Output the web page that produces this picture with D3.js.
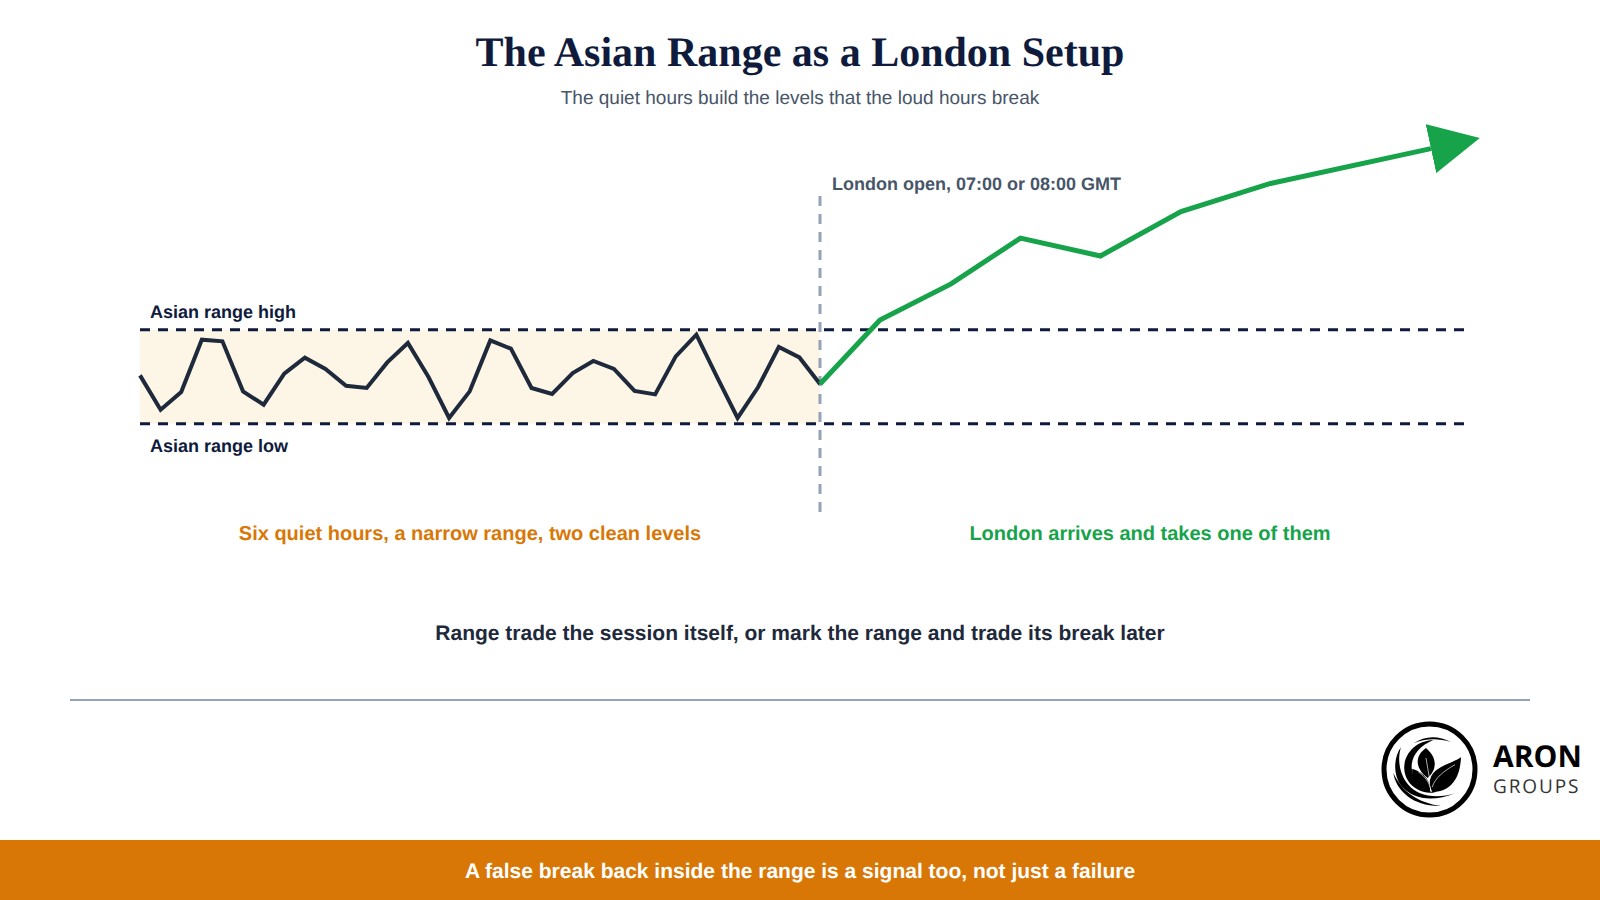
<!DOCTYPE html>
<html><head><meta charset="utf-8"><script src="https://cdnjs.cloudflare.com/ajax/libs/d3/7.8.5/d3.min.js"></script>
<style>html,body{margin:0;padding:0;background:#fff}svg{display:block}text{font-family:"Liberation Sans",Arial,sans-serif;text-rendering:geometricPrecision}</style></head>
<body><svg id="c" width="1600" height="900"></svg>
<script>
const asianSteps = d3.range(0, 34);
const asianValues = [51.4,14.9,33.7,89.4,87.6,34.4,20.2,53.2,70.2,58.2,40.4,38,65.2,85.9,49.7,6.1,34.4,88.6,79.8,38,31.6,53.9,66.7,58.2,34.8,31.2,71.6,94.7,49.7,6.1,39,81.6,70.5,42.2];
const londonSteps = [33,35.91,39.36,42.73,46.61,50.52,54.86,62.65];
const londonValues = [42.2,110.2,148.7,197.5,178.4,225.6,255.6,292.6];
const rangeLow = 0, rangeHigh = 100;
const rangeEndStep = 33, levelEndStep = 64.3;

const svg = d3.select('#c');
const x = d3.scaleLinear().domain([0,33]).range([140,820]);
const y = d3.scaleLinear().domain([0,100]).range([423.7,329.7]);
const line = d3.line().x(d=>x(d[0])).y(d=>y(d[1]));

const defs = svg.append('defs');
defs.append('marker').attr('id','arrow').attr('viewBox','0 0 10 10').attr('refX',0).attr('refY',5)
  .attr('markerWidth',10).attr('markerHeight',10).attr('orient','auto')
  .append('path').attr('d','M0,0L10,5L0,10Z').attr('fill','#16a34a');

function t(txt,xp,yp,size,fill,opts={}){
  return svg.append('text').attr('x',xp).attr('y',yp).attr('font-size',size).attr('fill',fill)
    .attr('text-anchor',opts.anchor||'middle').attr('font-weight',opts.weight||'normal')
    .style('font-family',opts.family||null).text(txt);
}

t('The Asian Range as a London Setup',800,66,42,'#0f1b3d',{weight:'bold',family:'"Liberation Serif",serif'});
t('The quiet hours build the levels that the loud hours break',800,104,19,'#475569');

svg.append('rect').attr('x',x(0)).attr('y',y(rangeHigh)).attr('width',x(rangeEndStep)-x(0)).attr('height',y(rangeLow)-y(rangeHigh)).attr('fill','#fdf5e6');

[rangeHigh,rangeLow].forEach(v=>svg.append('line').attr('x1',x(0)).attr('x2',x(levelEndStep)).attr('y1',y(v)).attr('y2',y(v))
  .attr('stroke','#0f1b3d').attr('stroke-width',3).attr('stroke-dasharray','10 8'));

svg.append('line').attr('x1',x(33)).attr('x2',x(33)).attr('y1',196).attr('y2',512)
  .attr('stroke','#94a3b8').attr('stroke-width',3).attr('stroke-dasharray','10 8');

svg.append('path').datum(d3.zip(asianSteps,asianValues)).attr('d',line).attr('fill','none').attr('stroke','#1e293b').attr('stroke-width',4).attr('stroke-linejoin','miter');
svg.append('path').datum(d3.zip(londonSteps,londonValues)).attr('d',line).attr('fill','none').attr('stroke','#16a34a').attr('stroke-width',5).attr('marker-end','url(#arrow)');

t('Asian range high',150,318,18,'#0f1b3d',{anchor:'start',weight:'bold'});
t('Asian range low',150,452,18,'#0f1b3d',{anchor:'start',weight:'bold'});
t('London open, 07:00 or 08:00 GMT',832,190,18,'#475569',{anchor:'start',weight:'bold'});
t('Six quiet hours, a narrow range, two clean levels',470,540,20,'#d97706',{weight:'bold'});
t('London arrives and takes one of them',1150,540,20,'#16a34a',{weight:'bold'});
t('Range trade the session itself, or mark the range and trade its break later',800,640,21,'#1e293b',{weight:'bold'});

svg.append('line').attr('x1',70).attr('x2',1530).attr('y1',700).attr('y2',700).attr('stroke','#94a3b8').attr('stroke-width',2);

svg.append('rect').attr('x',0).attr('y',840).attr('width',1600).attr('height',60).attr('fill','#d97706');
t('A false break back inside the range is a signal too, not just a failure',800,877.5,21,'#fff',{weight:'bold'});

// logo
svg.append('circle').attr('cx',1429.5).attr('cy',769.5).attr('r',45.5).attr('fill','#fff').attr('stroke','#000').attr('stroke-width',5);
const logo = svg.append('g').attr('transform','translate(1375,718) scale(0.3333)');
['M175,66C120,68 84,112 88,155C92,198 130,228 182,224C142,216 112,190 110,150C108,116 132,84 175,66Z',
 'M228,72C190,52 150,52 116,76C150,60 190,60 228,72Z',
 'M78,88C54,120 54,178 83,208C115,243 172,254 242,225C182,245 125,232 100,200C74,170 66,125 78,88Z',
 'M55,165C63,218 115,266 198,264C128,254 82,222 55,165Z',
 'M153,90C120,112 118,150 158,180C175,165 198,130 153,90Z',
 'M258,118C225,140 175,145 165,185C163,200 166,212 172,222C220,222 255,190 258,118Z',
 'M112,152C108,190 130,218 165,222C168,190 150,165 112,152Z'
].forEach(d=>logo.append('path').attr('d',d).attr('fill','#000'));
['M153,120L163,178','M130,162C150,175 165,195 168,220','M240,140C205,160 180,180 172,207'].forEach(d=>
  logo.append('path').attr('d',d).attr('fill','none').attr('stroke','#fff').attr('stroke-width',2));
t('ARON',1493,767.3,30,'#000',{anchor:'start',weight:'bold',family:'"Open Sans",sans-serif'});
t('GROUPS',1493,793.3,19,'#333',{anchor:'start',family:'"Open Sans",sans-serif'}).attr('letter-spacing',1.9);
</script></body></html>
